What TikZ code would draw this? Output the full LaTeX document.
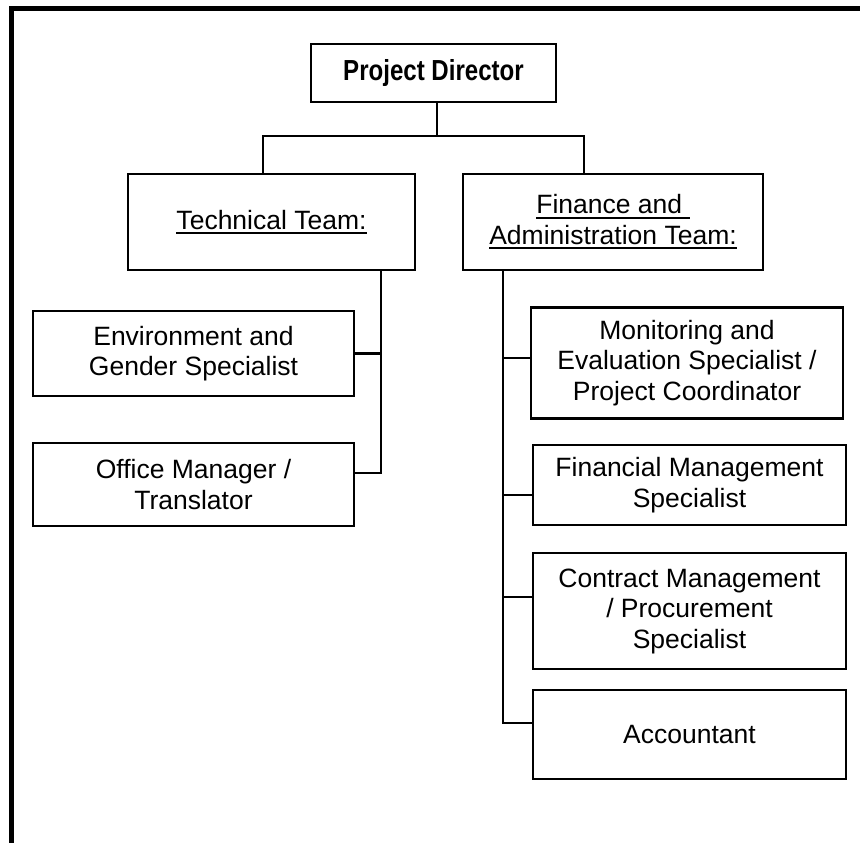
\documentclass[tikz,border=0pt]{standalone}
\usepackage{fontspec}
\setmainfont{Liberation Sans}
\newfontfamily\narrowfont[FakeStretch=0.83]{Liberation Sans}
\newcommand{\ulined}[1]{\leavevmode\vtop{\hbox{#1}\kern2.5pt\hrule height 2pt}}

\begin{document}
\begin{tikzpicture}[x=1pt,y=-1pt,
    box/.style={draw,line width=2.8pt,align=center,inner sep=0pt,
      font=\fontsize{26.5}{30.5}\selectfont},
    link/.style={line width=2.8pt}]
    \useasboundingbox (0,0) rectangle (860,843);

    % Frame
    \draw[line width=5pt] (11.5,843) -- (11.5,9) -- (860,9);

    % Director
    \node[box,minimum width=245pt,minimum height=58pt,
      font=\fontsize{29}{32}\selectfont\narrowfont\bfseries] (director) at (433.5,73) {Project Director};

    % Teams
    \node[box,minimum width=287pt,minimum height=96pt] (tech) at (271.5,222) {\ulined{Technical Team:}};
    \node[box,minimum width=300pt,minimum height=96pt] (fin) at (613,222) {\ulined{Finance and\ }\\\ulined{Administration Team:}};

    % Technical staff
    \node[box,minimum width=321pt,minimum height=85pt] (env) at (193.5,353.5) {Environment and\\Gender Specialist};
    \node[box,minimum width=321pt,minimum height=83pt] (office) at (193.5,484.5) {Office Manager /\\Translator};

    % Finance staff
    \node[box,minimum width=312pt,minimum height=111pt] (monitor) at (687,363) {Monitoring and\\Evaluation Specialist /\\Project Coordinator};
    \node[box,minimum width=313pt,minimum height=80pt] (finmgmt) at (689.5,485) {Financial Management\\Specialist};
    \node[box,minimum width=313pt,minimum height=116pt] (contract) at (689.5,611) {Contract Management\\/ Procurement\\Specialist};
    \node[box,minimum width=313pt,minimum height=89pt] (account) at (689.5,734.5) {Accountant};

    % Links from director
    \coordinate (split) at (437,136);
    \coordinate (splitL) at (263,136);
    \coordinate (splitR) at (584,136);
    \draw[link] (director.south -| split) -- (split);
    \draw[link] (tech.north -| splitL) -- (splitL) -- (splitR) -- (fin.north -| splitR);

    % Technical trunk
    \coordinate (techend) at (381,473);
    \draw[link] (tech.south -| techend) -- (techend) -- (office.east |- techend);
    \draw[link] (env.east) -- (env.east -| techend);

    % Finance trunk
    \coordinate (s1) at (503,358);
    \coordinate (s2) at (503,495);
    \coordinate (s3) at (503,597);
    \coordinate (finend) at (503,723);
    \draw[link] (fin.south -| finend) -- (finend) -- (account.west |- finend);
    \draw[link] (s1) -- (monitor.west |- s1);
    \draw[link] (s2) -- (finmgmt.west |- s2);
    \draw[link] (s3) -- (contract.west |- s3);
\end{tikzpicture}
\end{document}
